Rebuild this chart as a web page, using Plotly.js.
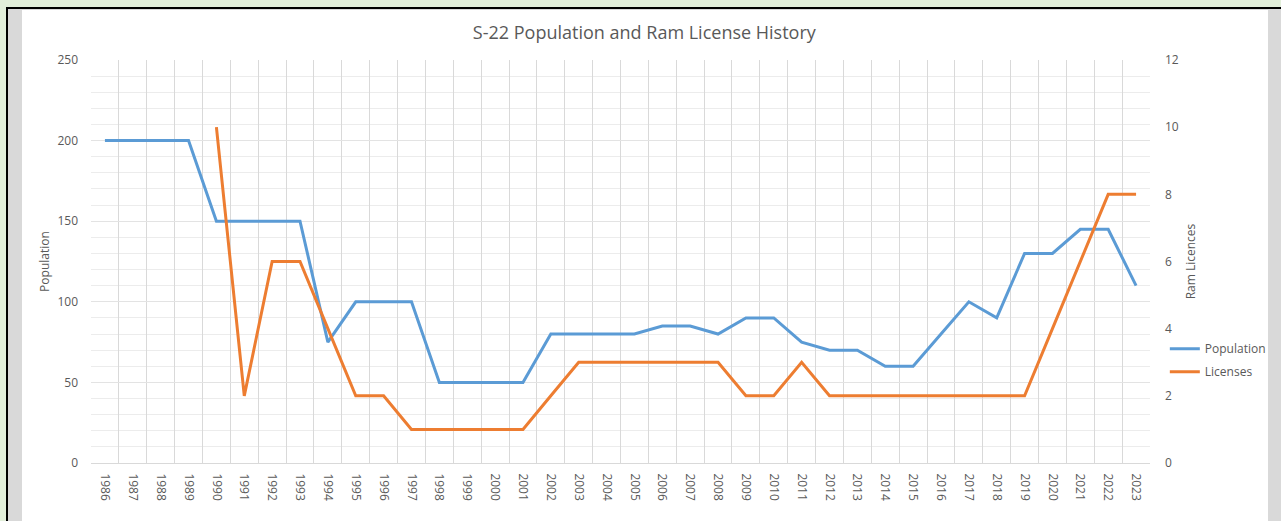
<!DOCTYPE html>
<html>
<head>
<meta charset="utf-8">
<script src="https://cdn.plot.ly/plotly-3.0.1.min.js"></script>
<style>
html,body{margin:0;padding:0;width:1281px;height:521px;overflow:hidden;background:#e2efda;}
#frame{position:absolute;left:6px;top:7px;width:1275px;height:514px;background:#000;}
#grayL{position:absolute;left:8px;top:9px;width:14px;height:512px;background:#d9d9d9;}
#grayR{position:absolute;left:1268px;top:9px;width:13px;height:512px;background:#d9d9d9;}
#grayT{position:absolute;left:8px;top:9px;width:1273px;height:1px;background:#d9d9d9;}
#white{position:absolute;left:22px;top:10px;width:1246px;height:511px;background:#fff;}
#chart{position:absolute;left:0;top:0;width:1281px;height:521px;}
</style>
</head>
<body>
<div id="frame"></div><div id="grayL"></div><div id="grayR"></div><div id="grayT"></div><div id="white"></div>
<div id="chart"></div>
<script>
const years = ['1986','1987','1988','1989','1990','1991','1992','1993','1994','1995','1996','1997','1998','1999','2000','2001','2002','2003','2004','2005','2006','2007','2008','2009','2010','2011','2012','2013','2014','2015','2016','2017','2018','2019','2020','2021','2022','2023'];
const population = [200,200,200,200,150,150,150,150,75,100,100,100,50,50,50,50,80,80,80,80,85,85,80,90,90,75,70,70,60,60,80,100,90,130,130,145,145,110];
const licenses = [null,null,null,null,10,2,6,6,4,2,2,1,1,1,1,1,2,3,3,3,3,3,3,2,2,3,2,2,2,2,2,2,2,2,4,6,8,8];

const font = 'Open Sans, Noto Sans, sans-serif';
const traces = [
  {x: years, y: population, name: 'Population', type: 'scatter', mode: 'lines', legendgroup: 'a',
   line: {color: '#5b9bd5', width: 3}, yaxis: 'y'},
  {x: years, y: licenses, name: 'Licenses', type: 'scatter', mode: 'lines', legendgroup: 'b',
   line: {color: '#ed7d31', width: 3}, yaxis: 'y2', connectgaps: false}
];
const layout = {
  width: 1281, height: 521,
  paper_bgcolor: 'rgba(0,0,0,0)', plot_bgcolor: 'rgba(0,0,0,0)',
  margin: {l: 91, r: 131, t: 60, b: 58, autoexpand: false},
  font: {family: font, color: '#595959', size: 12},
  title: {text: 'S-22 Population and Ram License History', font: {family: font, size: 18, color: '#595959'},
          x: 0.503, xanchor: 'center', y: 1 - 33/521, yanchor: 'middle', yref: 'container'},
  showlegend: true,
  legend: {x: 1.014, y: 0.255, xanchor: 'left', yanchor: 'middle', font: {size: 12, color: '#595959'},
           bgcolor: 'rgba(0,0,0,0)', tracegroupgap: 4, itemwidth: 30},
  xaxis: {type: 'category', range: [-0.5, years.length - 0.5], tickson: 'boundaries', showgrid: true,
          gridcolor: '#d9d9d9', gridwidth: 1,
          showline: true, linecolor: '#d9d9d9', ticks: '', tickangle: 90, tickfont: {size: 12, color: '#595959'},
          zeroline: false, automargin: false, ticklabelstandoff: 7},
  yaxis: {range: [0, 250], dtick: 50, showgrid: true, gridcolor: '#e3e3e3', zeroline: false,
          minor: {dtick: 10, showgrid: true, gridcolor: '#ececec', ticks: ''},
          ticks: '', ticklabelstandoff: 12, automargin: false,
          title: {text: 'Population', font: {size: 12, color: '#595959'}, standoff: 5}},
  yaxis2: {range: [0, 12], dtick: 2, overlaying: 'y', side: 'right', showgrid: false, zeroline: false,
           ticks: '', ticklabelstandoff: 14, automargin: false,
           title: {text: 'Ram Licences', font: {size: 12, color: '#595959'}, standoff: 8}}
};
Plotly.newPlot('chart', traces, layout, {displayModeBar: false, staticPlot: true});
</script>
</body>
</html>
